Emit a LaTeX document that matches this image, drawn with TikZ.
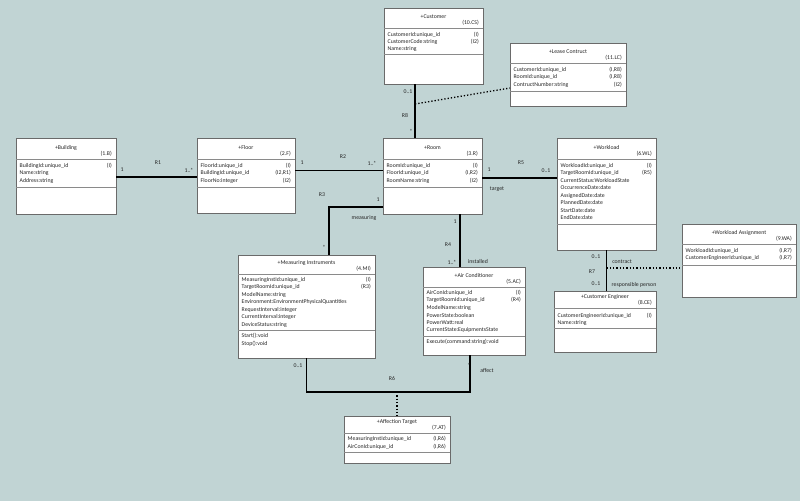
\documentclass[tikz,border=0pt]{standalone}
\usepackage{fontspec}
\setmainfont{Carlito}
\usetikzlibrary{calc}
\definecolor{bgc}{HTML}{C1D4D4}
\definecolor{brd}{HTML}{6A6A6A}
\definecolor{dvc}{HTML}{8A8A8A}
\tikzset{
  umlcls/.style={draw=brd, fill=white, line width=0.9pt, inner sep=0pt, outer sep=0pt, rectangle},
  divl/.style={draw=dvc, line width=1pt},
  txt/.style={inner sep=0pt, font=\fontsize{5.8}{7}\selectfont, text=black!85},
  assoc/.style={draw=black, line width=1.8pt},
  dotl/.style={draw=black, line width=1.3pt, dotted},
  lbl/.style={inner sep=0pt, font=\fontsize{5.8}{7}\selectfont, text=black!85},
}
\newcommand\clsbox[9]{%
  \node[umlcls, minimum width={(#4-#2)*1pt}, minimum height={(#5-#3)*1pt}, anchor=north west] (#1) at (#2,#3) {};
  \draw[divl] (#2,#6) -- (#4,#6);
  \draw[divl] (#2,#7) -- (#4,#7);
  \node[txt] at ({(#2+#4)/2},#6-11) {#8};
  \node[txt, anchor=east] at (#4-4,#6-5) {#9};
}
\newcommand\attrrow[5]{%
  \node[txt, anchor=west] at (#1+3.5,#3) {#4};
  \node[txt, anchor=east] at (#2-4,#3) {#5};
}
\begin{document}
\begin{tikzpicture}[x=1pt,y=-1pt]
\useasboundingbox (0,0) rectangle (800,501);
\fill[bgc] (0,0) rectangle (800,501);

% Customer
\clsbox{customer}{384}{8}{483}{84}{28}{54}{+Customer}{(10.CS)}
\attrrow{384}{483}{34.5}{CustomerId:unique\_id}{(I)}
\attrrow{384}{483}{42}{CustomerCode:string}{(I2)}
\attrrow{384}{483}{49.5}{Name:string}{}

% Lease Contruct
\clsbox{lease}{510}{43}{626}{106}{63}{91}{+Lease Contruct}{(11.LC)}
\attrrow{510}{626}{69.5}{CustomerId:unique\_id}{(I,R8)}
\attrrow{510}{626}{77}{RoomId:unique\_id}{(I,R8)}
\attrrow{510}{626}{84.5}{ContructNumber:string}{(I2)}

% Building
\clsbox{building}{16}{138}{116}{214}{159}{187}{+Building}{(1.B)}
\attrrow{16}{116}{165.5}{BuildingId:unique\_id}{(I)}
\attrrow{16}{116}{173}{Name:string}{}
\attrrow{16}{116}{180.5}{Address:string}{}

% Floor
\clsbox{floor}{197}{138}{295}{213}{159}{187}{+Floor}{(2.F)}
\attrrow{197}{295}{165.5}{FloorId:unique\_id}{(I)}
\attrrow{197}{295}{173}{BuildingId:unique\_id}{(I2,R1)}
\attrrow{197}{295}{180.5}{FloorNo:integer}{(I2)}

% Room
\clsbox{room}{383}{138}{482}{214}{159}{187}{+Room}{(3.R)}
\attrrow{383}{482}{165.5}{RoomId:unique\_id}{(I)}
\attrrow{383}{482}{173}{FloorId:unique\_id}{(I,R2)}
\attrrow{383}{482}{180.5}{RoomName:string}{(I2)}

% Workload
\clsbox{workload}{557}{138}{656}{250}{159}{224}{+Workload}{(6.WL)}
\attrrow{557}{656}{165.5}{WorkloadId:unique\_id}{(I)}
\attrrow{557}{656}{173}{TargetRoomId:unique\_id}{(R5)}
\attrrow{557}{656}{180.5}{CurrentStatus:WorkloadState}{}
\attrrow{557}{656}{188}{OccurrenceDate:date}{}
\attrrow{557}{656}{195.5}{AssignedDate:date}{}
\attrrow{557}{656}{203}{PlannedDate:date}{}
\attrrow{557}{656}{210.5}{StartDate:date}{}
\attrrow{557}{656}{218}{EndDate:date}{}

% Workload Assignment
\clsbox{wa}{682}{224}{796}{297}{244}{265}{+Workload Assignment}{(9.WA)}
\attrrow{682}{796}{250.5}{WorkloadId:unique\_id}{(I,R7)}
\attrrow{682}{796}{258}{CustomerEngineerId:unique\_id}{(I,R7)}

% Measuring Instruments
\clsbox{mi}{238}{255}{375}{358}{274}{330}{+Measuring Instruments}{(4.MI)}
\attrrow{238}{375}{279.5}{MeasuringInstId:unique\_id}{(I)}
\attrrow{238}{375}{287}{TargetRoomId:unique\_id}{(R3)}
\attrrow{238}{375}{294.5}{ModelName:string}{}
\attrrow{238}{375}{302}{Environment:EnvironmentPhysicalQuantities}{}
\attrrow{238}{375}{309.5}{RequestInterval:integer}{}
\attrrow{238}{375}{317}{CurrentInterval:integer}{}
\attrrow{238}{375}{324.5}{DeviceStatus:string}{}
\attrrow{238}{375}{336}{Start():void}{}
\attrrow{238}{375}{343.5}{Stop():void}{}

% Air Conditioner
\clsbox{ac}{423}{267}{525}{355}{287}{336}{+Air Conditioner}{(5.AC)}
\attrrow{423}{525}{292.7}{AirConId:unique\_id}{(I)}
\attrrow{423}{525}{300.2}{TargetRoomId:unique\_id}{(R4)}
\attrrow{423}{525}{307.7}{ModelName:string}{}
\attrrow{423}{525}{315.2}{PowerState:boolean}{}
\attrrow{423}{525}{322.7}{PowerWatt:real}{}
\attrrow{423}{525}{330.2}{CurrentState:EquipmentsState}{}
\attrrow{423}{525}{342}{Execute(command:string):void}{}

% Customer Engineer
\clsbox{ce}{554}{291}{656}{352}{308}{328}{+Customer Engineer}{(8.CE)}
\attrrow{554}{656}{315.5}{CustomerEngineerId:unique\_id}{(I)}
\attrrow{554}{656}{323}{Name:string}{}

% Affection Target
\clsbox{at}{344}{416}{450}{463}{433}{452}{+Affection Target}{(7.AT)}
\attrrow{344}{450}{439}{MeasuringInstId:unique\_id}{(I,R6)}
\attrrow{344}{450}{446.5}{AirConId:unique\_id}{(I,R6)}

% R1
\draw[assoc] ([yshift=-1pt]building.east) -- ([yshift=-1pt]building.east -| floor.west);
\node[lbl] at (122,170) {1};
\node[lbl] at (189,170) {1..*};
\node[lbl] at (158,163) {R1};

% R2
\draw[assoc] ([yshift=5pt]floor.east) -- ([yshift=5pt]floor.east -| room.west);
\node[lbl] at (302,163) {1};
\node[lbl] at (372,163) {1..*};
\node[lbl] at (343,157) {R2};

% R3
\draw[assoc] ([yshift=-31pt]room.west) -| ([xshift=22.5pt]mi.north);
\node[lbl] at (322,195) {R3};
\node[lbl] at (378,200) {1};
\node[lbl] at (364,218) {measuring};
\node[lbl] at (324,247) {*};

% R4
\draw[assoc] ([xshift=27.5pt]room.south) -- ([xshift=27.5pt]room.south |- ac.north);
\node[lbl] at (455,222) {1};
\node[lbl] at (448,245) {R4};
\node[lbl] at (452,262) {1..*};
\node[lbl] at (478,262) {installed};

% R5
\draw[assoc] ([yshift=-2pt]room.east) -- ([yshift=-2pt]room.east -| workload.west);
\node[lbl] at (489,170) {1};
\node[lbl] at (521,163) {R5};
\node[lbl] at (546,171) {0..1};
\node[lbl] at (497,189) {target};

% R6
\coordinate (r6m) at (397,392);
\draw[assoc] (mi.south) |- (r6m) -| ([xshift=-4pt]ac.south);
\draw[dotl] (r6m) -- (r6m |- at.north);
\node[lbl] at (298,366) {0..1};
\node[lbl] at (469,365) {*};
\node[lbl] at (392,379) {R6};
\node[lbl] at (487,371) {affect};

% R7
\coordinate (r7m) at (606.5,268);
\draw[assoc] (workload.south) -- (workload.south |- ce.north);
\draw[dotl] (r7m) -- (r7m -| wa.west);
\node[lbl] at (596,257) {0..1};
\node[lbl] at (622,262) {contract};
\node[lbl] at (592,272) {R7};
\node[lbl] at (596,284) {0..1};
\node[lbl] at (634,285) {responsible person};

% R8
\coordinate (r8m) at (415,104);
\draw[assoc] ([xshift=-18.5pt]customer.south) -- ([xshift=-18.5pt]customer.south |- room.north);
\draw[dotl] (r8m) -- ([yshift=-13.5pt]lease.west);
\node[lbl] at (408,92) {0..1};
\node[lbl] at (405,116) {R8};
\node[lbl] at (411,131) {*};
\end{tikzpicture}
\end{document}
